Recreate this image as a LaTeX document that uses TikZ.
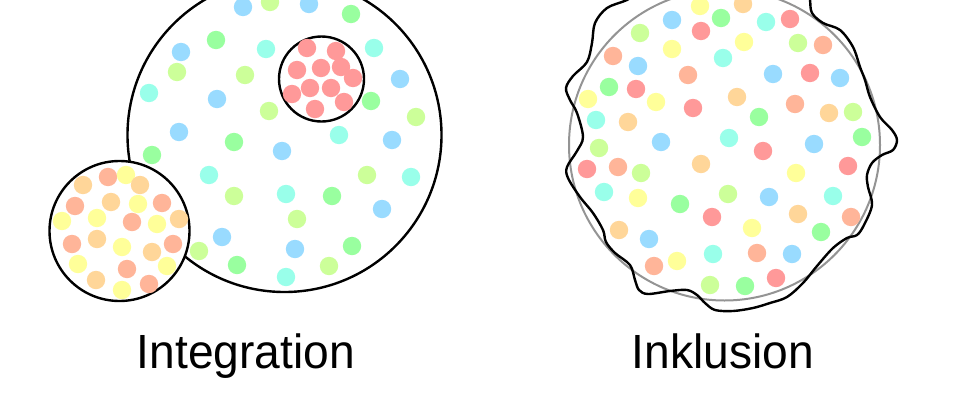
\documentclass[tikz,border=0pt]{standalone}
\usepackage{fontspec}
\setmainfont{Liberation Sans}
\definecolor{cB}{HTML}{99DBFF}
\definecolor{cC}{HTML}{99FFEA}
\definecolor{cG}{HTML}{99FF9F}
\definecolor{cY}{HTML}{CCFF99}
\definecolor{cR}{HTML}{FF9999}
\definecolor{cS}{HTML}{FFB599}
\definecolor{cO}{HTML}{FFD699}
\definecolor{cW}{HTML}{FFFF99}
\newcommand\pdot[3]{\fill[#1] (#2,#3) circle[radius=9.2];}
\tikzset{
  ring/.style={draw=black, line width=1.8pt},
  greyring/.style={draw=black!42, line width=1.5pt},
  wavy/.style={draw=black, line width=1.8pt},
  caption/.style={font=\fontsize{34.6pt}{40pt}\selectfont, anchor=base, inner sep=0pt, yscale=1.04}
}
\begin{document}
\begin{tikzpicture}[x=0.75pt,y=-0.75pt]
\clip (0,0) rectangle (964,400);
\fill[white] (0,0) rectangle (964,400);
% ---------- Integration ----------
\draw[ring, fill=white] (284.5,135) circle[radius=157];
% dots in big circle
\pdot{cB}{243}{7}
\pdot{cY}{270}{2}
\pdot{cB}{309}{4}
\pdot{cG}{351}{14}
\pdot{cG}{216}{40}
\pdot{cB}{181}{52}
\pdot{cC}{266}{49}
\pdot{cC}{374}{48}
\pdot{cY}{177}{72}
\pdot{cY}{245}{75}
\pdot{cB}{400}{79}
\pdot{cC}{149}{93}
\pdot{cB}{217}{99}
\pdot{cY}{269}{111}
\pdot{cG}{371}{101}
\pdot{cY}{416}{117}
\pdot{cB}{179}{132}
\pdot{cG}{234}{142}
\pdot{cC}{339}{135}
\pdot{cB}{392}{140}
\pdot{cB}{282}{151}
\pdot{cC}{209}{175}
\pdot{cY}{367}{175}
\pdot{cC}{411}{177}
\pdot{cY}{234}{196}
\pdot{cC}{286}{194}
\pdot{cG}{332}{196}
\pdot{cB}{382}{209}
\pdot{cY}{297}{219}
\pdot{cB}{222}{237}
\pdot{cG}{352}{246}
\pdot{cY}{199}{251}
\pdot{cB}{295}{249}
\pdot{cG}{237}{265}
\pdot{cY}{329}{266}
\pdot{cC}{286}{277}
% small red group
\draw[ring, fill=white] (321.5,79) circle[radius=42.5];
\pdot{cR}{307}{48}
\pdot{cR}{336}{51}
\pdot{cR}{297}{70}
\pdot{cR}{321}{68}
\pdot{cR}{341}{67}
\pdot{cR}{353}{78}
\pdot{cR}{292}{94}
\pdot{cR}{310}{88}
\pdot{cR}{331}{88}
\pdot{cR}{344}{102}
\pdot{cR}{315}{109}
% orange group
\draw[ring, fill=white] (119.5,231) circle[radius=70];
\pdot{cG}{152}{155}
\pdot{cO}{83}{185}
\pdot{cS}{108}{177}
\pdot{cW}{126}{175}
\pdot{cO}{140}{185}
\pdot{cS}{75}{206}
\pdot{cO}{111}{202}
\pdot{cW}{138}{204}
\pdot{cS}{162}{203}
\pdot{cW}{62}{221}
\pdot{cW}{97}{218}
\pdot{cS}{132}{222}
\pdot{cW}{157}{224}
\pdot{cO}{179}{219}
\pdot{cS}{72}{244}
\pdot{cO}{97}{239}
\pdot{cW}{122}{247}
\pdot{cO}{152}{252}
\pdot{cS}{173}{244}
\pdot{cW}{78}{264}
\pdot{cS}{127}{269}
\pdot{cW}{167}{266}
\pdot{cO}{96}{280}
\pdot{cW}{122}{290}
\pdot{cS}{149}{284}
% ---------- Inklusion ----------
\draw[greyring] (724.5,145) circle[radius=155.5];
\pdot{cW}{700}{6}
\pdot{cO}{743}{4}
\pdot{cB}{672}{20}
\pdot{cG}{721}{18}
\pdot{cC}{766}{22}
\pdot{cR}{790}{19}
\pdot{cY}{640}{33}
\pdot{cR}{701}{31}
\pdot{cW}{744}{42}
\pdot{cY}{798}{43}
\pdot{cS}{823}{45}
\pdot{cS}{613}{56}
\pdot{cW}{672}{49}
\pdot{cC}{723}{58}
\pdot{cB}{638}{66}
\pdot{cS}{688}{75}
\pdot{cB}{773}{74}
\pdot{cR}{810}{73}
\pdot{cB}{840}{78}
\pdot{cG}{609}{87}
\pdot{cR}{636}{89}
\pdot{cW}{588}{99}
\pdot{cW}{656}{102}
\pdot{cR}{693}{108}
\pdot{cO}{737}{97}
\pdot{cS}{795}{104}
\pdot{cO}{829}{113}
\pdot{cY}{853}{112}
\pdot{cC}{596}{120}
\pdot{cO}{628}{122}
\pdot{cG}{759}{117}
\pdot{cB}{661}{142}
\pdot{cC}{729}{138}
\pdot{cB}{814}{144}
\pdot{cG}{862}{137}
\pdot{cY}{599}{148}
\pdot{cR}{763}{151}
\pdot{cR}{587}{169}
\pdot{cS}{618}{167}
\pdot{cY}{641}{173}
\pdot{cO}{701}{164}
\pdot{cW}{796}{173}
\pdot{cR}{848}{166}
\pdot{cC}{604}{192}
\pdot{cW}{638}{198}
\pdot{cG}{680}{204}
\pdot{cY}{728}{194}
\pdot{cB}{769}{197}
\pdot{cC}{833}{196}
\pdot{cR}{712}{217}
\pdot{cO}{798}{214}
\pdot{cS}{851}{217}
\pdot{cO}{619}{230}
\pdot{cW}{752}{228}
\pdot{cG}{821}{232}
\pdot{cB}{649}{239}
\pdot{cS}{654}{266}
\pdot{cW}{677}{261}
\pdot{cC}{713}{254}
\pdot{cS}{757}{253}
\pdot{cB}{792}{254}
\pdot{cY}{710}{285}
\pdot{cG}{745}{286}
\pdot{cR}{776}{278}
% wavy outline
\draw[wavy] plot[smooth cycle, tension=0.55] coordinates {
 (627,0) (607,8) (595,23) (592,43) (587,62) (573,76) (566,88) (570,100)
 (577,113) (583,137) (577,151) (567,167) (568,178) (580,197) (593,213)
 (603,230) (606,242) (615,253) (630,265) (635,280) (639,290) (648,294)
 (670,291) (687,290) (697,295) (705,303) (715,310) (733,311) (753,308)
 (770,303) (787,297) (803,283) (817,266) (833,248) (847,238) (857,235)
 (864,225) (872,205) (868,187) (867,175) (872,163) (882,155) (893,150)
 (897,140) (892,130) (880,117) (870,97) (865,80) (860,67) (853,47)
 (840,30) (823,23) (812,13) (810,0) (808,-14) (720,-22) (650,-12)};
% captions
\node[caption] (integ) at (246,368) {Integration};
\node[caption] (inkl) at (723,368) {Inklusion};
\end{tikzpicture}
\end{document}
